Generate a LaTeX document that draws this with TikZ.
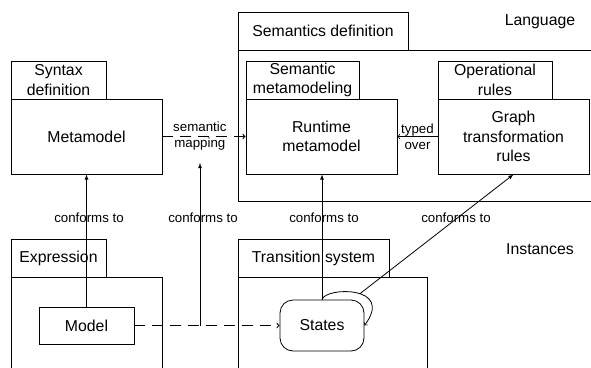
\documentclass[tikz,border=0pt]{standalone}
\usepackage{fontspec}
\setmainfont{Liberation Sans}
\newcommand{\boxfont}{\fontsize{15.8pt}{19.5pt}\selectfont}
\newcommand{\labfont}{\fontsize{13.3pt}{16pt}\selectfont}
\tikzset{
  pkg/.style={draw, rectangle, inner sep=0pt, align=center, font=\boxfont},
  lbl/.style={inner sep=0pt, align=center, font=\labfont},
  mapping/.style={line width=1.1pt, dash pattern=on 11pt off 7pt, ->},
}
\begin{document}
\begin{tikzpicture}[x=1pt, y=-1pt, line width=0.8pt]
	\useasboundingbox (0,0) rectangle (591,367);
	\clip (0,0) rectangle (591,367); % Clips the picture...

		% Language part
		\node[pkg, minimum width=95pt, minimum height=38pt] (syntab) at (58.5,80) {Syntax\\definition};
		\node[pkg, minimum width=151pt, minimum height=75pt] (metamodel) at (86.5,136.5) {Metamodel};
		\node[pkg, minimum width=170pt, minimum height=38pt] (semtab) at (323,31) {Semantics definition};
		\node[pkg, minimum width=412pt, minimum height=151pt] (sembody) at (444,125.5) {};
		\node[pkg, minimum width=113pt, minimum height=38pt] (smmtab) at (302.5,80) {Semantic\\metamodeling};
		\node[pkg, minimum width=151pt, minimum height=75pt] (runtime) at (321.5,136.5) {Runtime\\metamodel};
		\node[pkg, minimum width=114pt, minimum height=38pt] (optab) at (495,80) {Operational\\rules};
		\node[pkg, minimum width=151pt, minimum height=75pt] (graph) at (513.5,136.5) {Graph\\transformation\\rules};
		\node[font=\boxfont] (language) at (540,22) {Language};

		% Instances part
		\node[pkg, minimum width=95pt, minimum height=38pt] (exptab) at (58.5,258) {Expression};
		\node[pkg, minimum width=151pt, minimum height=123pt] (expbody) at (86.5,338.5) {};
		\node[pkg, minimum width=151pt, minimum height=38pt] (trtab) at (313.5,258) {Transition system};
		\node[pkg, minimum width=189pt, minimum height=123pt] (trbody) at (332.5,338.5) {};
		\node[pkg, minimum width=95pt, minimum height=37pt] (model) at (86.5,325.5) {Model};
		\node[pkg, rounded corners=13pt, minimum width=84pt, minimum height=51pt] (states) at (322,325.5) {States};
		\node[font=\boxfont] (instances) at (540,249) {Instances};

		% Mappings
		\draw[mapping] (metamodel) -- node[lbl, pos=0.45] {semantic\\mapping} (runtime);
		\draw[->] (graph) -- node[lbl] {typed\\over} (runtime);
		\draw[mapping] (model) -- (states);
		\draw[->] (states.north) .. controls (325,287) and (395,285) .. coordinate[pos=0.55] (loopc) (states.east);

		% Conforms to
		\coordinate (mt) at (200,325.5);
		\coordinate (smtip) at (200,163);
		\draw[-latex] (model.north) -- (model.north |- metamodel.south);
		\draw[-latex] (mt) -- (smtip);
		\draw[-latex] (states.north) -- (states.north |- runtime.south);
		\draw[-latex] (loopc) -- (graph.south);
		\foreach \Point in {(89,218),(203,218),(324,218),(456,218)}{\node[lbl] at \Point {conforms to};}
	\end{tikzpicture}
\end{document}
